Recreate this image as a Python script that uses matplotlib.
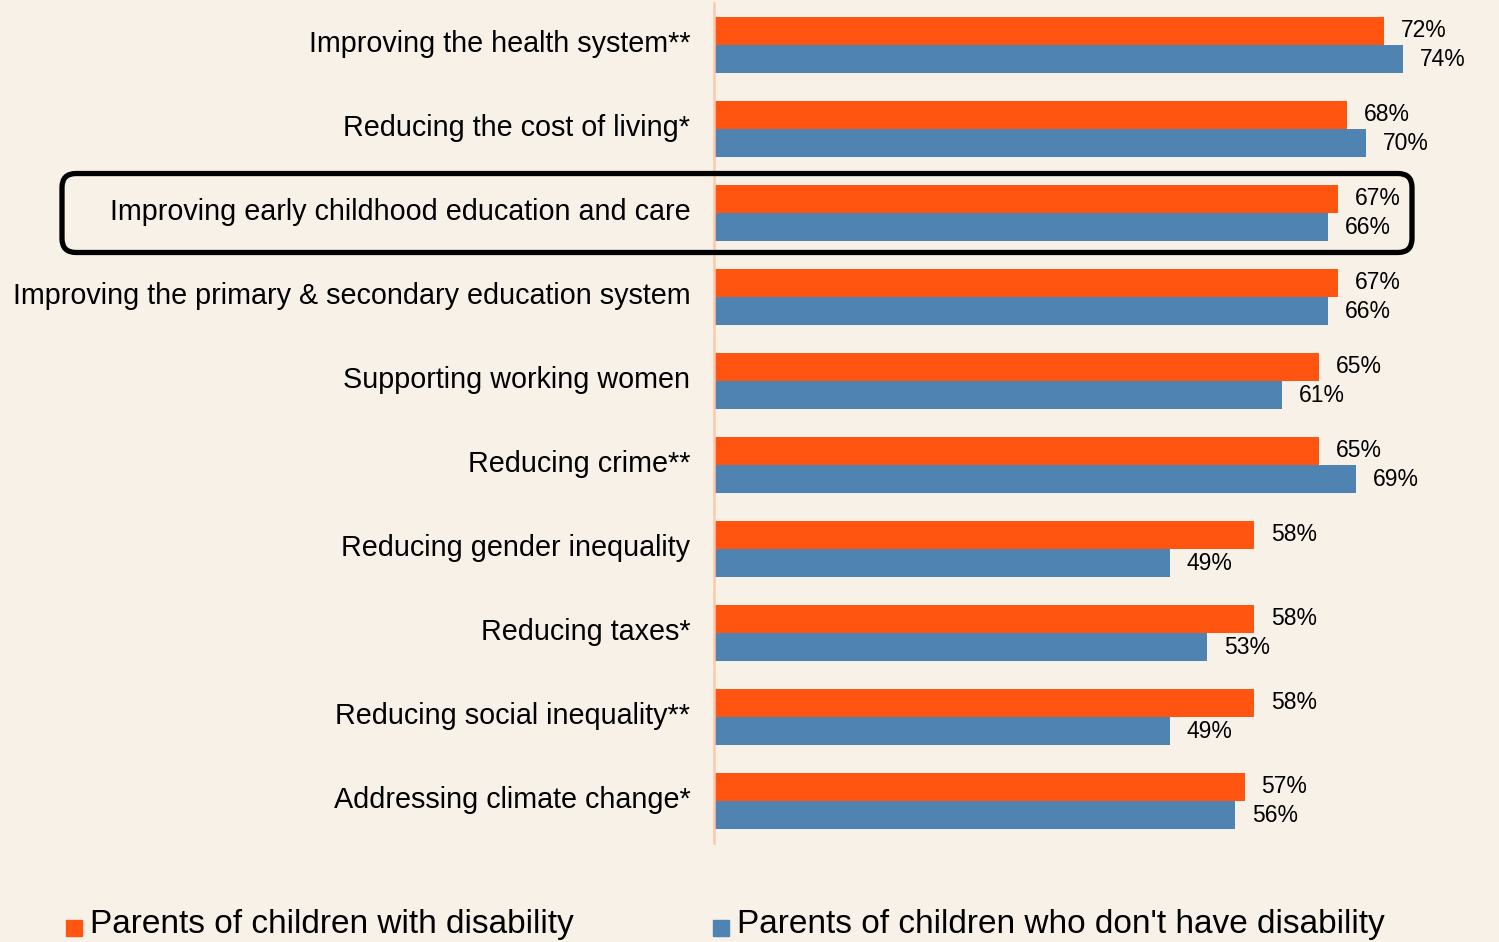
import numpy as np
import matplotlib
matplotlib.use("Agg")
import matplotlib.pyplot as plt
from matplotlib.patches import FancyBboxPatch, Rectangle
from matplotlib.transforms import ScaledTranslation

categories = [
    "Improving the health system**",
    "Reducing the cost of living*",
    "Improving early childhood education and care",
    "Improving the primary & secondary education system",
    "Supporting working women",
    "Reducing crime**",
    "Reducing gender inequality",
    "Reducing taxes*",
    "Reducing social inequality**",
    "Addressing climate change*",
]
with_disability = [72, 68, 67, 67, 65, 65, 58, 58, 58, 57]
without_disability = [74, 70, 66, 66, 61, 69, 49, 53, 49, 56]
series_names = ["Parents of children with disability",
                "Parents of children who don't have disability"]
highlight = 2

BG = "#F8F1E7"
ORANGE = "#FF5511"
BLUE = "#4F83B1"

plt.rcParams["font.family"] = ["Liberation Sans", "DejaVu Sans"]

fig = plt.figure(figsize=(14.99, 9.42), dpi=100, facecolor=BG)
ax = fig.add_axes([714 / 1499, 1 - 843 / 942, 782 / 1499, 840 / 942])
ax.set_facecolor(BG)

y = np.arange(len(categories))
h = 0.335
ax.barh(y - h / 2, with_disability, height=h, color=ORANGE, label=series_names[0])
ax.barh(y + h / 2, without_disability, height=h, color=BLUE, label=series_names[1])

for yi, a, b in zip(y, with_disability, without_disability):
    ax.text(a + 1.8, yi - h / 2, f"{a}%", va="center", ha="left", fontsize=16.5)
    ax.text(b + 1.8, yi + h / 2, f"{b}%", va="center", ha="left", fontsize=16.5)

ax.set_xlim(0, 84)
ax.set_ylim(len(categories) - 0.5, -0.5)
ax.set_yticks(y)
ax.set_yticklabels(categories, fontsize=20.7)
ax.tick_params(axis="y", length=0, pad=17)
shift = ScaledTranslation(0, 4 / 100, fig.dpi_scale_trans)
for lbl in ax.get_yticklabels():
    lbl.set_transform(lbl.get_transform() + shift)
ax.set_xticks([])
for s in ["top", "right", "bottom"]:
    ax.spines[s].set_visible(False)
ax.spines["left"].set_color("#FDC8AA")
ax.spines["left"].set_linewidth(1.8)

# highlight box around one category (display pixel coords)
fig.canvas.draw()
_, yb = ax.transData.transform((0, highlight + 0.47))
_, yt = ax.transData.transform((0, highlight - 0.47))
box = FancyBboxPatch((62, yb), 1350, yt - yb,
                     boxstyle="round,pad=0,rounding_size=14",
                     transform=None, fill=False, edgecolor="black",
                     linewidth=3.8, clip_on=False)
fig.add_artist(box)

# legend
for x0, col, name in [(66, ORANGE, series_names[0]), (713, BLUE, series_names[1])]:
    fig.add_artist(Rectangle((x0 / 1499, 1 - 936 / 942), 16 / 1499, 16 / 942,
                             transform=fig.transFigure, color=col))
    fig.text((x0 + 24) / 1499, 1 - 924 / 942, name, fontsize=24, va="center", ha="left")

fig.savefig("out.png", dpi=100, facecolor=BG)
